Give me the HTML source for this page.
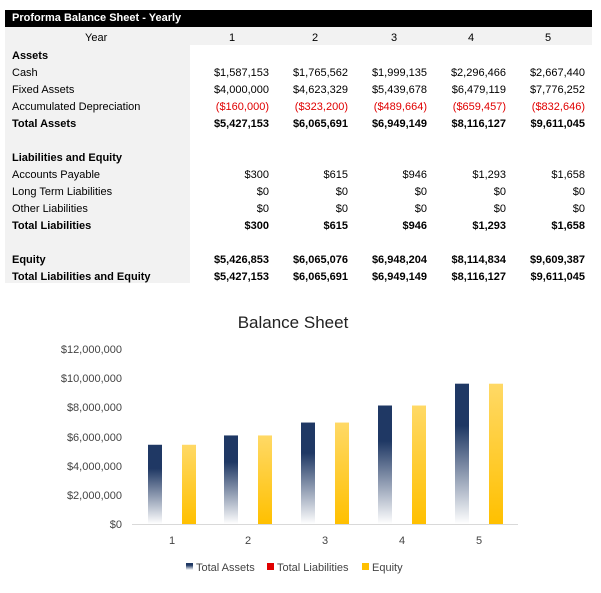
<!DOCTYPE html>
<html><head><style>
body{margin:0;width:601px;height:593px;background:#fff;font-family:"Liberation Sans",Arial,sans-serif;position:relative;overflow:hidden}
.hdr{position:absolute;left:5px;top:10px;width:587px;height:17px;background:#000;color:#fff;font-weight:bold;font-size:11px;line-height:17px;padding-left:7px;box-sizing:border-box}
.gray{position:absolute;background:#f2f2f2}
.r{position:absolute;font-size:11px;line-height:17px;height:17px}
.l{left:12px}
.b{font-weight:bold}
.v{position:absolute;font-size:11px;line-height:17px;text-align:right;width:80px}
.red{color:#e00000}
</style></head><body>
<div class="hdr">Proforma Balance Sheet - Yearly</div>
<div class="gray" style="left:5px;top:27px;width:587px;height:18px"></div>
<div class="gray" style="left:5px;top:45px;width:185px;height:238px"></div>
<div class="r" style="left:85px;top:30px">Year</div>
<div class="r" style="left:229px;top:30px">1</div>
<div class="r" style="left:312px;top:30px">2</div>
<div class="r" style="left:391px;top:30px">3</div>
<div class="r" style="left:468px;top:30px">4</div>
<div class="r" style="left:545px;top:30px">5</div>
<div id="rows"></div>
<svg style="position:absolute;left:0;top:0" width="601" height="593">
<defs>
<linearGradient id="gb" x1="0" y1="0" x2="0" y2="1"><stop offset="0" stop-color="#1f3864"/><stop offset="0.3" stop-color="#1f3864"/><stop offset="1" stop-color="#fff"/></linearGradient>
<linearGradient id="gy" x1="0" y1="0" x2="0" y2="1"><stop offset="0" stop-color="#ffd966"/><stop offset="1" stop-color="#ffc000"/></linearGradient>
</defs>
<text x="293" y="328" font-size="17" text-anchor="middle" font-family="Liberation Sans, sans-serif" fill="#222">Balance Sheet</text>
<g font-size="11" fill="#444" text-anchor="end" font-family="Liberation Sans, sans-serif">
<text x="122" y="353">$12,000,000</text><text x="122" y="382">$10,000,000</text><text x="122" y="411">$8,000,000</text><text x="122" y="441">$6,000,000</text><text x="122" y="470">$4,000,000</text><text x="122" y="499">$2,000,000</text><text x="122" y="528">$0</text>
</g>
<line x1="132" y1="524.5" x2="518" y2="524.5" stroke="#d9d9d9"/>
<g id="bars"></g>
<g font-size="11" fill="#444" text-anchor="middle" font-family="Liberation Sans, sans-serif">
<text x="172" y="544">1</text><text x="248" y="544">2</text><text x="325" y="544">3</text><text x="402" y="544">4</text><text x="479" y="544">5</text>
</g>
<g font-size="11" fill="#444" font-family="Liberation Sans, sans-serif">
<rect x="186" y="563" width="7" height="7" fill="url(#gb)"/><text x="196" y="571">Total Assets</text>
<rect x="267" y="563" width="7" height="7" fill="#e00000"/><text x="277" y="571">Total Liabilities</text>
<rect x="362" y="563" width="7" height="7" fill="#ffc000"/><text x="372" y="571">Equity</text>
</g>
</svg>
<script>
var rows=[
["Assets",55,1,[]],
["Cash",72,0,["$1,587,153","$1,765,562","$1,999,135","$2,296,466","$2,667,440"]],
["Fixed Assets",89,0,["$4,000,000","$4,623,329","$5,439,678","$6,479,119","$7,776,252"]],
["Accumulated Depreciation",106,2,["($160,000)","($323,200)","($489,664)","($659,457)","($832,646)"]],
["Total Assets",123,1,["$5,427,153","$6,065,691","$6,949,149","$8,116,127","$9,611,045"]],
["Liabilities and Equity",157,1,[]],
["Accounts Payable",174,0,["$300","$615","$946","$1,293","$1,658"]],
["Long Term Liabilities",191,0,["$0","$0","$0","$0","$0"]],
["Other Liabilities",208,0,["$0","$0","$0","$0","$0"]],
["Total Liabilities",225,1,["$300","$615","$946","$1,293","$1,658"]],
["Equity",259,1,["$5,426,853","$6,065,076","$6,948,204","$8,114,834","$9,609,387"]],
["Total Liabilities and Equity",276,1,["$5,427,153","$6,065,691","$6,949,149","$8,116,127","$9,611,045"]]];
var xs=[269,348,427,506,585],h="";
rows.forEach(function(r){var t=r[1]-7;
h+='<div class="r l'+(r[2]==1?' b':'')+'" style="top:'+t+'px">'+r[0]+'</div>';
r[3].forEach(function(v,i){h+='<div class="v'+(r[2]==1?' b':'')+(r[2]==2?' red':'')+'" style="left:'+(xs[i]-80)+'px;top:'+t+'px">'+v+'</div>';});});
document.getElementById('rows').innerHTML=h;
var ta=[5427153,6065691,6949149,8116127,9611045],eq=[5426853,6065076,6948204,8114834,9609387],cx=[172,248,325,402,479],s="";
for(var i=0;i<5;i++){var a=ta[i]/1e6*14.6,e=eq[i]/1e6*14.6;
s+='<rect x="'+(cx[i]-24)+'" y="'+(524-a)+'" width="14" height="'+a+'" fill="url(#gb)"/>';
s+='<rect x="'+(cx[i]+10)+'" y="'+(524-e)+'" width="14" height="'+e+'" fill="url(#gy)"/>';}
document.getElementById('bars').innerHTML=s;
</script>
</body></html>
